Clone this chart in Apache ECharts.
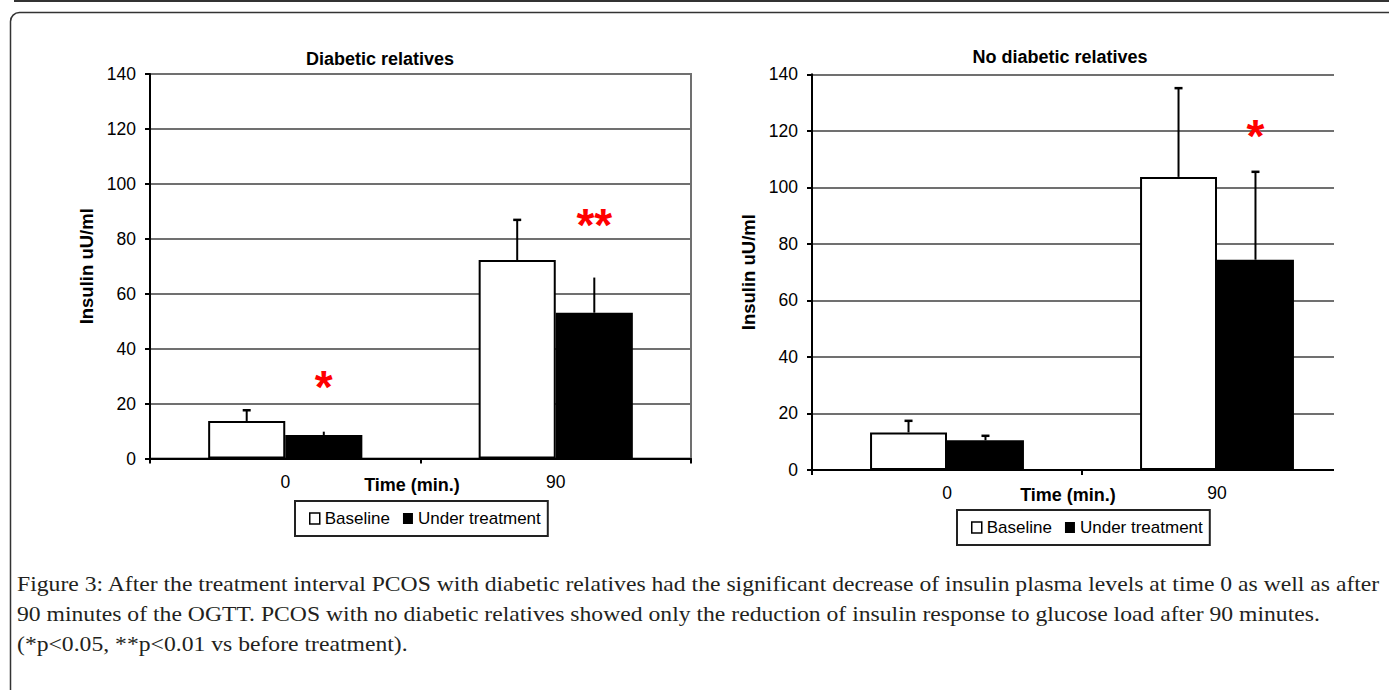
<!DOCTYPE html>
<html>
<head>
<meta charset="utf-8">
<script src="https://cdn.jsdelivr.net/npm/echarts@6/dist/echarts.min.js"></script>
<style>
html,body{margin:0;padding:0;background:#fff;}
#c{width:1389px;height:690px;}
</style>
</head>
<body>
<div id="c"></div>
<script>
// ---------- data ----------
const categories = ['0', '90'];
const yMin = 0, yMax = 140, yStep = 20;
const seriesNames = ['Baseline', 'Under treatment'];
const leftTitle = 'Diabetic relatives';
const rightTitle = 'No diabetic relatives';
const yName = 'Insulin uU/ml';
const xName = 'Time (min.)';

const leftBaseline = [13.7, 72.3];
const leftBaselineErr = [3.9, 14.6];
const leftTreatment = [8.6, 53.1];
const leftTreatmentErr = [1.2, 12.8];

const rightBaseline = [13.3, 103.7];
const rightBaselineErr = [4.1, 31.4];
const rightTreatment = [10.5, 74.4];
const rightTreatmentErr = [1.6, 31.1];

// significance marks above the "Under treatment" bars (value = mark centre)
const leftMarks = ['*', '**'];
const leftMarkValues = [28.2, 87.2];
const rightMarks = ['', '*'];
const rightMarkValues = [null, 120];

const captionLines = [
  'Figure 3: After the treatment interval PCOS with diabetic relatives had the significant decrease of insulin plasma levels at time 0 as well as after',
  '90 minutes of the OGTT. PCOS with no diabetic relatives showed only the reduction of insulin response to glucose load after 90 minutes.',
  '(*p<0.05, **p<0.01 vs before treatment).'
];

// ---------- styles ----------
const SANS = 'Liberation Sans, Arial, sans-serif';
const SERIF = 'Liberation Serif, Times New Roman, serif';
const BAR_RATIO = 0.285;
const GRID_COLOR = '#707070';
const MARK_FONT = 46;
const CAPTION_FONT = '21px ' + SERIF;
const CAPTION_SCALE_X = 1.127;

function errData(base, baseErr, treat, treatErr) {
  const out = [];
  base.forEach((v, i) => out.push([i, 0, v, baseErr[i]]));
  treat.forEach((v, i) => out.push([i, 1, v, treatErr[i]]));
  return out;
}
function markData(values) {
  const out = [];
  values.forEach((v, i) => { if (v !== null) out.push([i, v]); });
  return out;
}
function markTexts(marks, values) {
  return marks.filter((m, i) => values[i] !== null);
}

function errRenderer(capWidths) {
  return function (params, api) {
    const cat = api.value(0), which = api.value(1), v = api.value(2), e = api.value(3);
    const band = api.size([1, 0])[0];
    const bw = band * BAR_RATIO;
    const cx = api.coord([cat, 0])[0] + (which === 0 ? -bw / 2 : bw / 2);
    const y0 = api.coord([cat, v])[1];
    const y1 = api.coord([cat, v + e])[1];
    const cw = capWidths[which];
    const children = [{
      type: 'line', shape: { x1: cx, y1: y0, x2: cx, y2: y1 },
      style: { stroke: '#000', lineWidth: 2 }
    }];
    if (cw > 0) children.push({
      type: 'line', shape: { x1: cx - cw / 2, y1: y1, x2: cx + cw / 2, y2: y1 },
      style: { stroke: '#000', lineWidth: 2.5 }
    });
    return { type: 'group', children: children };
  };
}
function markRenderer(texts) {
  return function (params, api) {
    const cat = api.value(0), v = api.value(1);
    const band = api.size([1, 0])[0];
    const bw = band * BAR_RATIO;
    const cx = api.coord([cat, 0])[0] + bw / 2;
    const cy = api.coord([cat, v])[1];
    return {
      type: 'text', x: cx, y: cy + MARK_FONT * 0.12,
      style: {
        text: texts[params.dataIndex], fill: '#ff0000',
        font: 'bold ' + MARK_FONT + 'px ' + SANS,
        align: 'center', verticalAlign: 'middle'
      }
    };
  };
}

function xAxisCfg(gi, padRight, gap) {
  return {
    type: 'category', gridIndex: gi, data: categories,
    axisLine: { lineStyle: { color: '#000', width: 2 } },
    axisTick: { show: true, length: 5, lineStyle: { color: '#000', width: 2 } },
    axisLabel: { color: '#000', fontSize: 17.5, fontFamily: SANS, margin: 14 },
    name: xName, nameLocation: 'middle', nameGap: gap, nameMoveOverlap: false,
    nameTextStyle: { color: '#000', fontSize: 18, fontWeight: 'bold', fontFamily: SANS, padding: [0, padRight, 0, 0] }
  };
}
function yAxisCfg(gi) {
  return {
    type: 'value', gridIndex: gi, min: yMin, max: yMax, interval: yStep,
    axisLine: { show: true, lineStyle: { color: '#000', width: 2 } },
    axisTick: { show: true, length: 5, lineStyle: { color: '#000', width: 2 } },
    axisLabel: { color: '#000', fontSize: 17.5, fontFamily: SANS, margin: 14 },
    splitLine: { show: true, lineStyle: { color: GRID_COLOR, width: 2 } },
    name: yName, nameLocation: 'middle', nameGap: 54, nameRotate: 90, nameMoveOverlap: false,
    nameTextStyle: { color: '#000', fontSize: 18.5, fontWeight: 'bold', fontFamily: SANS }
  };
}
function legendCfg(left, top) {
  return {
    left: left, top: top, orient: 'horizontal', selectedMode: false,
    itemWidth: 10, itemHeight: 11, itemGap: 13, padding: [9, 7, 9, 14],
    borderColor: '#222', borderWidth: 2,
    textStyle: { color: '#000', fontSize: 17, fontFamily: SANS },
    data: [
      { name: seriesNames[0], icon: 'rect', itemStyle: { color: '#fff', borderColor: '#000', borderWidth: 1.5 } },
      { name: seriesNames[1], icon: 'rect', itemStyle: { color: '#000', borderColor: '#000', borderWidth: 0 } }
    ]
  };
}
function barSeries(name, data, gi, fill) {
  return {
    name: name, type: 'bar', xAxisIndex: gi, yAxisIndex: gi, data: data,
    barWidth: (BAR_RATIO * 100) + '%', barGap: '0%',
    itemStyle: { color: fill, borderColor: '#000', borderWidth: 2 },
    emphasis: { disabled: true }, animation: false
  };
}
function captionText(i, y) {
  return {
    type: 'text', x: 17, y: y, scaleX: CAPTION_SCALE_X,
    style: { text: captionLines[i], font: CAPTION_FONT, fill: '#231f20', align: 'left', verticalAlign: 'middle' },
    z: 100
  };
}

const leftMarkTexts = markTexts(leftMarks, leftMarkValues);
const rightMarkTexts = markTexts(rightMarks, rightMarkValues);

const option = {
  animation: false,
  backgroundColor: '#fff',
  grid: [
    { left: 150, top: 74, width: 541, height: 384.6, show: true, borderColor: GRID_COLOR, borderWidth: 2, backgroundColor: 'transparent' },
    { left: 812, top: 74.3, width: 540, height: 395.7, show: false }
  ],
  xAxis: [xAxisCfg(0, 17, 17), xAxisCfg(1, 28, 16)],
  yAxis: [yAxisCfg(0), yAxisCfg(1)],
  legend: [legendCfg(295, 501), legendCfg(957, 510)],
  series: [
    barSeries(seriesNames[0], leftBaseline, 0, '#fff'),
    barSeries(seriesNames[1], leftTreatment, 0, '#000'),
    barSeries(seriesNames[0], rightBaseline, 1, '#fff'),
    barSeries(seriesNames[1], rightTreatment, 1, '#000'),
    {
      name: 'errLeft', type: 'custom', xAxisIndex: 0, yAxisIndex: 0,
      data: errData(leftBaseline, leftBaselineErr, leftTreatment, leftTreatmentErr),
      encode: { x: 0, y: 2 }, renderItem: errRenderer([8, 0]), z: 5, silent: true
    },
    {
      name: 'errRight', type: 'custom', xAxisIndex: 1, yAxisIndex: 1,
      data: errData(rightBaseline, rightBaselineErr, rightTreatment, rightTreatmentErr),
      encode: { x: 0, y: 2 }, renderItem: errRenderer([8, 8]), z: 5, silent: true
    },
    {
      name: 'marksLeft', type: 'custom', xAxisIndex: 0, yAxisIndex: 0,
      data: markData(leftMarkValues), encode: { x: 0, y: 1 },
      renderItem: markRenderer(leftMarkTexts), z: 6, silent: true
    },
    {
      name: 'marksRight', type: 'custom', xAxisIndex: 1, yAxisIndex: 1,
      data: markData(rightMarkValues), encode: { x: 0, y: 1 },
      renderItem: markRenderer(rightMarkTexts), z: 6, silent: true
    }
  ],
  graphic: {
    elements: [
      { type: 'line', shape: { x1: 14, y1: 1, x2: 1389, y2: 1 }, style: { stroke: '#333', lineWidth: 2 }, z: 100 },
      { type: 'rect', shape: { x: 10.5, y: 12.5, width: 1420, height: 720, r: 9 }, style: { fill: 'none', stroke: '#333', lineWidth: 1.5 }, z: 100 },
      { type: 'rect', shape: { x: 1334, y: 60, width: 60, height: 420 }, style: { fill: '#fff' }, z: 90 },
      { type: 'text', x: 380, y: 58.5, style: { text: leftTitle, font: 'bold 18px ' + SANS, fill: '#000', align: 'center', verticalAlign: 'middle' }, z: 100 },
      { type: 'text', x: 1060, y: 57, style: { text: rightTitle, font: 'bold 18px ' + SANS, fill: '#000', align: 'center', verticalAlign: 'middle' }, z: 100 },
      captionText(0, 584),
      captionText(1, 614),
      captionText(2, 644)
    ]
  }
};

const chart = echarts.init(document.getElementById('c'), null, { renderer: 'svg', width: 1389, height: 690 });
chart.setOption(option);
</script>
</body>
</html>
